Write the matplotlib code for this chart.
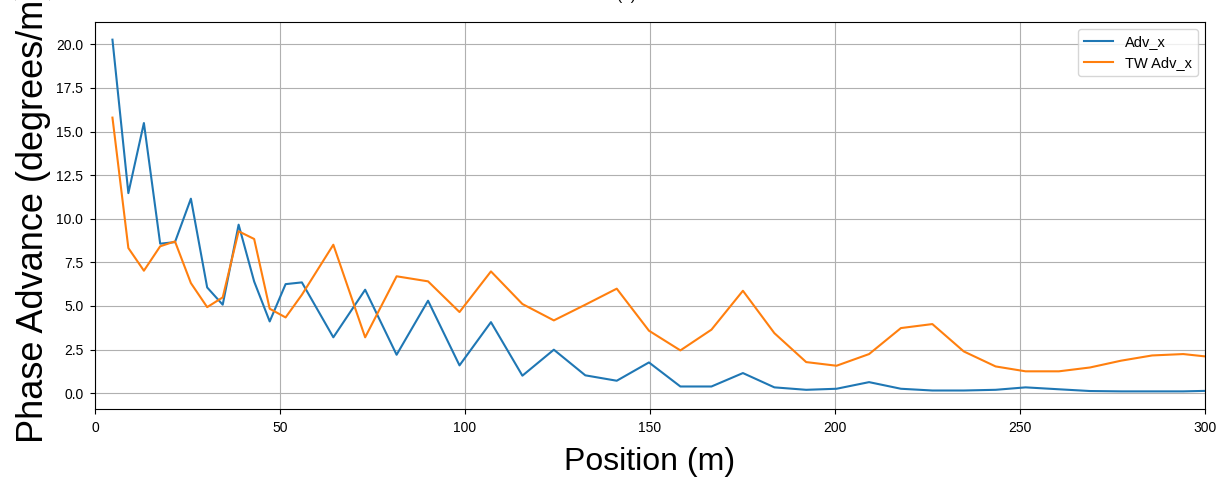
import matplotlib
matplotlib.use("Agg")
from matplotlib import pyplot as plt

# positions along the line (m)
position = [4.7, 9.0, 13.2, 17.6, 21.6, 25.9, 30.3, 34.5, 38.8, 43.0, 47.2, 51.5, 55.9,
            64.4, 73.0, 81.5, 90.0, 98.5, 107.0, 115.5, 124.0, 132.5, 141.0, 149.7,
            158.2, 166.6, 175.1, 183.6, 192.2, 200.4, 209.2, 217.8, 226.3, 234.8,
            243.4, 251.5, 260.5, 268.9, 277.3, 285.7, 294.1, 302.5]

adv_x = [20.27, 11.47, 15.49, 8.57, 8.66, 11.15, 6.06, 5.07, 9.66, 6.4, 4.11, 6.25, 6.35,
         3.2, 5.93, 2.2, 5.30, 1.59, 4.07, 1.0, 2.49, 1.02, 0.71, 1.76,
         0.38, 0.38, 1.15, 0.33, 0.19, 0.25, 0.63, 0.25, 0.15, 0.15,
         0.19, 0.33, 0.22, 0.12, 0.10, 0.10, 0.10, 0.14]

tw_adv_x = [15.8, 8.32, 7.02, 8.42, 8.70, 6.31, 4.93, 5.49, 9.28, 8.84, 4.84, 4.34, 5.64,
            8.51, 3.20, 6.70, 6.41, 4.65, 6.98, 5.11, 4.17, 5.07, 5.99, 3.58,
            2.45, 3.64, 5.87, 3.44, 1.78, 1.57, 2.24, 3.73, 3.96, 2.39,
            1.53, 1.25, 1.25, 1.47, 1.86, 2.16, 2.24, 2.05]

plt.rcParams['font.family'] = ['Liberation Sans', 'DejaVu Sans']

fig, ax = plt.subplots(figsize=(12.25, 4.8), dpi=100)
fig.subplots_adjust(left=0.0776, right=0.9837, top=0.954, bottom=0.148)

ax.plot(position, adv_x, label="Adv_x")
ax.plot(position, tw_adv_x, label="TW Adv_x")

ax.set_xlim(0, 300)
ax.grid(True)
ax.tick_params(labelsize=10, pad=5)
ax.set_xlabel("Position (m)", fontsize=23, labelpad=9)
ax.set_ylabel("Phase Advance (degrees/m)", fontsize=26)
ax.legend(loc="upper right", fontsize=10.5)

# title mostly cut off at the top of the image, as in the source
fig.text(626 / 1225, 0.994, "(a)", ha="center", va="bottom", fontsize=11)

plt.savefig("out.png")
